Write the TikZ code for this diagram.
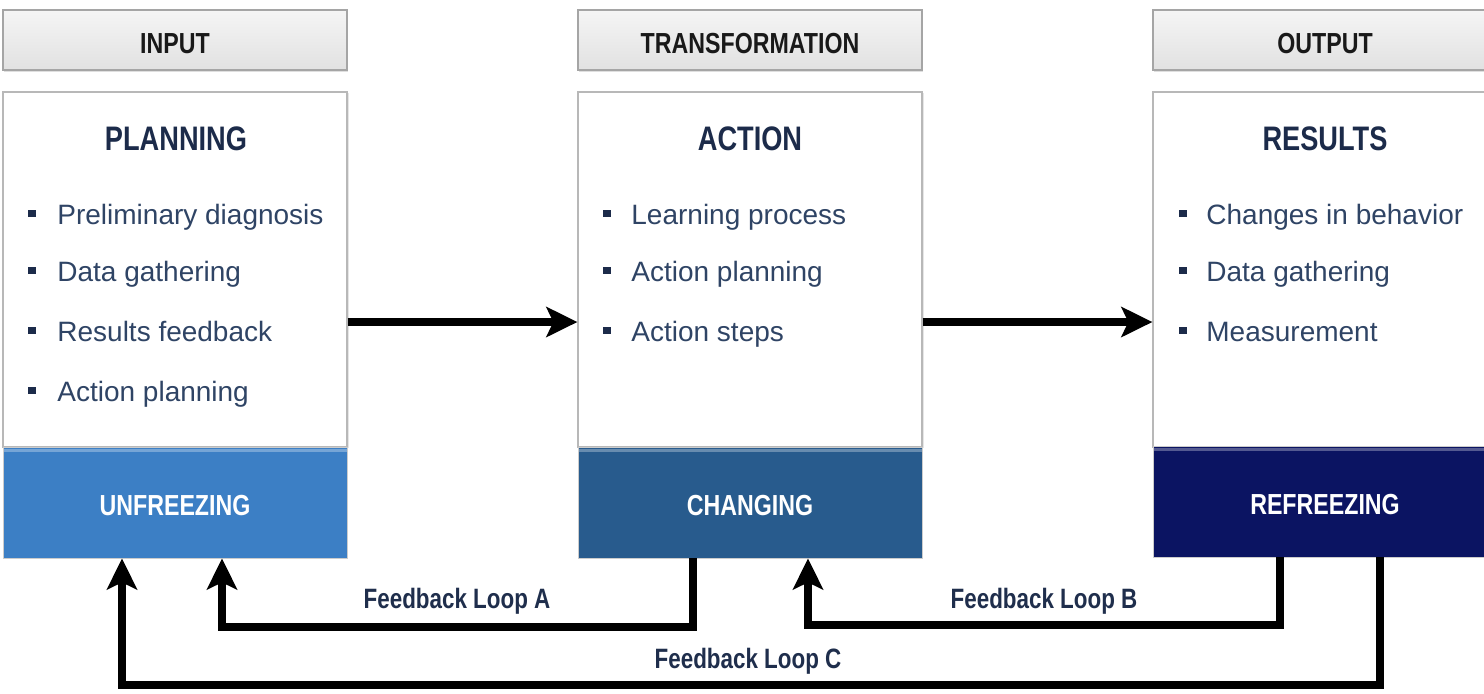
\documentclass[tikz,border=0pt]{standalone}
\usepackage{fontspec}
\setmainfont{Liberation Sans}
\newfontfamily\condfont{Liberation Sans}[FakeStretch=0.8]
\usetikzlibrary{arrows.meta,shadows}
\definecolor{hdrtop}{HTML}{F5F5F5}
\definecolor{hdrbot}{HTML}{E1E1E1}
\definecolor{hdrline}{HTML}{A5A5A5}
\definecolor{titlecol}{HTML}{1C2B4A}
\definecolor{itemcol}{HTML}{2F4465}
\definecolor{unfcol}{HTML}{3C7FC5}
\definecolor{chgcol}{HTML}{285B8D}
\definecolor{refcol}{HTML}{0B1462}
\definecolor{fbcol}{HTML}{1F2E4C}
\tikzset{
  hdr/.style={rectangle, inner sep=0pt, minimum width=172pt, minimum height=30pt,
    top color=hdrtop, bottom color=hdrbot, draw=hdrline, line width=0.6pt,
    drop shadow={opacity=0.25, shadow xshift=0.6pt, shadow yshift=-0.8pt}},
  panel/.style={rectangle, inner sep=0pt, minimum width=172pt, minimum height=177.5pt,
    fill=white, draw=black!28, line width=0.6pt,
    drop shadow={opacity=0.2, shadow xshift=0.8pt, shadow yshift=-0.5pt}},
  stage/.style={rectangle, inner sep=0pt, minimum width=172pt, minimum height=55.5pt,
    draw=black!20, line width=0.4pt,
    path picture={\draw[white, opacity=0.3, line width=1.5pt]
      ([yshift=-1.5pt]path picture bounding box.north west) --
      ([yshift=-1.5pt]path picture bounding box.north east);}},
  hdrtxt/.style={anchor=base, inner sep=0pt, font=\condfont\bfseries\fontsize{14.5}{17}\selectfont, text=black!90},
  ttl/.style={anchor=base, inner sep=0pt, font=\condfont\bfseries\fontsize{17}{20}\selectfont, text=titlecol},
  stgtxt/.style={anchor=base, inner sep=0pt, font=\condfont\bfseries\fontsize{14.5}{17}\selectfont, text=white},
  itm/.style={anchor=base west, inner sep=0pt, font=\fontsize{14}{17}\selectfont, text=itemcol},
  bul/.style={rectangle, inner sep=0pt, minimum size=3.6pt, fill=titlecol},
  fbtxt/.style={anchor=base, inner sep=0pt, font=\condfont\bfseries\fontsize{14}{17}\selectfont, text=fbcol},
  arr/.style={line width=4pt, line join=miter, black,
    -{Stealth[length=15.5pt, width=15pt, inset=3.5pt]}}
}
\begin{document}
\begin{tikzpicture}[x=0.5pt, y=-0.5pt]
\useasboundingbox (0,0) rectangle (1484,693);
\clip (0,0) rectangle (1484,693);

% headers
\node[hdr] (hin) at (175,40) {};
\node[hdr] (htr) at (750,40) {};
\node[hdr] (hout) at (1325,40) {};
\node[hdrtxt] (hint) at (175,53) {INPUT};
\node[hdrtxt] (htrt) at (750,53) {TRANSFORMATION};
\node[hdrtxt] (houtt) at (1325,53) {OUTPUT};

% panels
\node[panel] (plan) at (175,269.5) {};
\node[panel] (act) at (750,269.5) {};
\node[panel] (res) at (1325,269.5) {};

% stages
\node[stage, fill=unfcol] (unf) at (175,502.5) {};
\node[stage, fill=chgcol] (chg) at (750,502.5) {};
\node[stage, fill=refcol] (ref) at (1325,501.5) {};
\node[stgtxt] (unft) at (175,515) {UNFREEZING};
\node[stgtxt] (chgt) at (750,515) {CHANGING};
\node[stgtxt] (reft) at (1325,514) {REFREEZING};

% titles
\node[ttl] (plant) at (176,150) {PLANNING};
\node[ttl] (actt) at (750,150) {ACTION};
\node[ttl] (rest) at (1325,150) {RESULTS};

% left items
\node[bul] (b11) at (32,213.5) {};
\node[itm] (i11) at (57,224) {Preliminary diagnosis};
\node[bul] (b12) at (32,270.5) {};
\node[itm] (i12) at (57,281) {Data gathering};
\node[bul] (b13) at (32,330.5) {};
\node[itm] (i13) at (57,341) {Results feedback};
\node[bul] (b14) at (32,390.5) {};
\node[itm] (i14) at (57,401) {Action planning};

% middle items
\node[bul] (b21) at (607,213.5) {};
\node[itm] (i21) at (631,224) {Learning process};
\node[bul] (b22) at (607,270.5) {};
\node[itm] (i22) at (631,281) {Action planning};
\node[bul] (b23) at (607,330.5) {};
\node[itm] (i23) at (631,341) {Action steps};

% right items
\node[bul] (b31) at (1183,213.5) {};
\node[itm] (i31) at (1206,224) {Changes in behavior};
\node[bul] (b32) at (1183,270.5) {};
\node[itm] (i32) at (1206,281) {Data gathering};
\node[bul] (b33) at (1183,330.5) {};
\node[itm] (i33) at (1206,341) {Measurement};

% forward arrows
\coordinate (hy) at (0,322);
\draw[arr] (plan.east |- hy) -- (act.west |- hy);
\draw[arr] (act.east |- hy) -- (res.west |- hy);

% feedback loops
\coordinate (A1) at (693,627);
\coordinate (A2) at (222,627);
\draw[arr] (chg.south -| A1) -- (A1) -- (A2) -- (unf.south -| A2);
\coordinate (B1) at (1280,625);
\coordinate (B2) at (808,625);
\draw[arr] (ref.south -| B1) -- (B1) -- (B2) -- (chg.south -| B2);
\coordinate (C1) at (1380,685);
\coordinate (C2) at (122,685);
\draw[arr] (ref.south -| C1) -- (C1) -- (C2) -- (unf.south -| C2);

\node[fbtxt] (fa) at (457,608) {Feedback Loop A};
\node[fbtxt] (fb) at (1044,608) {Feedback Loop B};
\node[fbtxt] (fc) at (748,668) {Feedback Loop C};
\end{tikzpicture}
\end{document}
